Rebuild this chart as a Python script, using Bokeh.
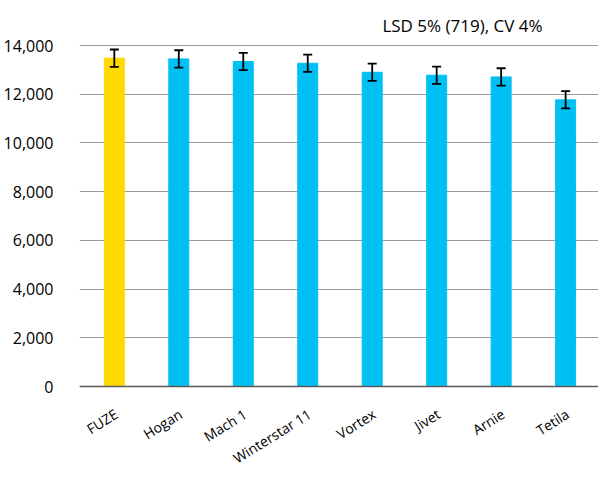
import math
from bokeh.plotting import figure
from bokeh.models import ColumnDataSource, FixedTicker, Whisker, Range1d, Span
from bokeh.core.properties import value
from bokeh.embed import file_html
from bokeh.resources import INLINE

varieties = ["FUZE", "Hogan", "Mach 1", "Winterstar 11", "Vortex", "Jivet", "Arnie", "Tetila"]
yields = [13480, 13450, 13340, 13270, 12900, 12780, 12710, 11770]
err_half = [355, 355, 355, 355, 355, 355, 355, 355]
bar_colors = ["#FFDA00", "#00BFF3", "#00BFF3", "#00BFF3", "#00BFF3", "#00BFF3", "#00BFF3", "#00BFF3"]
y_ticks = [0, 2000, 4000, 6000, 8000, 10000, 12000, 14000]
title_text = "LSD 5% (719), CV 4%"

FONT = "Open Sans"

xs = list(range(len(varieties)))
src = ColumnDataSource(dict(
    x=xs, y=yields, color=bar_colors,
    upper=[v + e for v, e in zip(yields, err_half)],
    lower=[v - e for v, e in zip(yields, err_half)],
))

# vertical geometry (pixels from figure top)
ZERO_PX = 386
TOP_PX = 45          # position of the 14,000 line
FIG_H = 466
PX_PER_UNIT = (ZERO_PX - TOP_PX) / 14000.0
Y_TOP = ZERO_PX / PX_PER_UNIT
Y_BOT = -(FIG_H - ZERO_PX) / PX_PER_UNIT
LABEL_Y = -26 / PX_PER_UNIT
TITLE_Y = (ZERO_PX - 25) / PX_PER_UNIT

p = figure(width=598, height=FIG_H, output_backend="svg", toolbar_location=None,
           x_range=Range1d(-0.54, 7.51), y_range=Range1d(Y_BOT, Y_TOP),
           min_border_left=71, min_border_right=0, min_border_top=0, min_border_bottom=0)
p.title.visible = False
p.outline_line_color = None
p.background_fill_color = "white"
p.xaxis.visible = False

p.xgrid.grid_line_color = None
p.ygrid.ticker = FixedTicker(ticks=y_ticks)
p.ygrid.grid_line_color = "#9c9c9c"
p.ygrid.grid_line_width = 1.2

p.vbar(x="x", top="y", width=0.31, fill_color="color", line_color="color", source=src)

w = Whisker(base="x", upper="upper", lower="lower", source=src, line_color="black",
            line_width=1.8, level="overlay")
for head in (w.upper_head, w.lower_head):
    head.size = 9
    head.line_width = 1.8
    head.line_color = "black"
p.add_layout(w)

# category baseline
p.add_layout(Span(location=0, dimension="width", line_color="#5a5a5a", line_width=1.3))

# category labels, rotated
lab_src = ColumnDataSource(dict(x=[i + 0.03 for i in xs], y=[LABEL_Y] * len(xs), text=varieties))
p.text(x="x", y="y", text="text", source=lab_src, angle=math.radians(32),
       text_align="right", text_baseline="middle", text_font=value(FONT),
       text_font_size="14px", text_color="black")

# title text
p.text(x=[5.4], y=[TITLE_Y], text=[title_text], text_align="center", text_baseline="middle",
       text_font=value(FONT), text_font_size="17px", text_color="black")

p.yaxis.ticker = FixedTicker(ticks=y_ticks)
p.yaxis.major_label_overrides = {t: f"{t:,}" for t in y_ticks}
p.yaxis.axis_line_color = None
p.yaxis.major_tick_line_color = None
p.yaxis.minor_tick_line_color = None
p.yaxis.major_label_text_font = FONT
p.yaxis.major_label_text_font_size = "16px"
p.yaxis.major_label_text_color = "black"
p.yaxis.major_label_standoff = 20

open("out.html", "w").write(file_html(p, INLINE))
